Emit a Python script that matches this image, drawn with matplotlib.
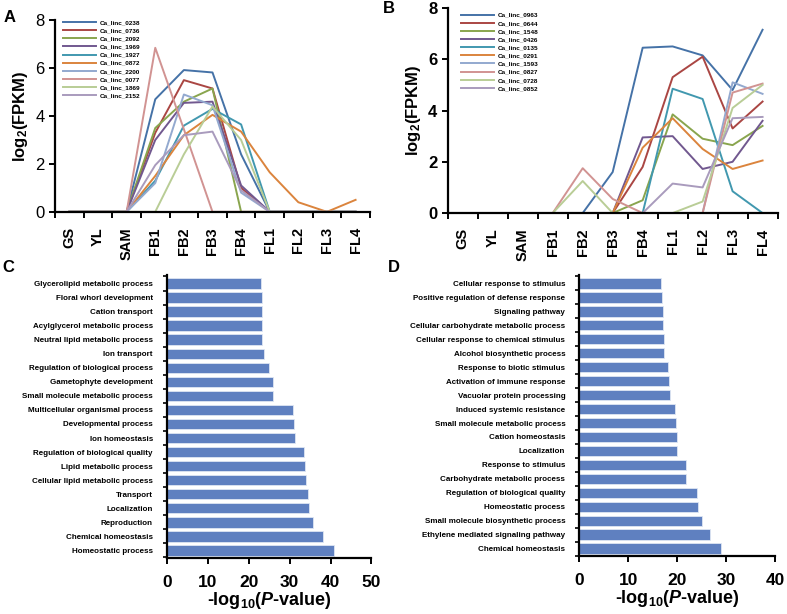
import numpy as np
import matplotlib
matplotlib.use("Agg")
import matplotlib.pyplot as plt

plt.rcParams['font.family'] = ['Liberation Sans', 'DejaVu Sans']
plt.rcParams['mathtext.fontset'] = 'custom'
plt.rcParams['mathtext.rm'] = 'Liberation Sans:bold'
plt.rcParams['mathtext.bf'] = 'Liberation Sans:bold'
plt.rcParams['mathtext.it'] = 'Liberation Sans:italic'
plt.rcParams['mathtext.bfit'] = 'Liberation Sans:italic:bold'

# ---- data ----
stages = ['GS', 'YL', 'SAM', 'FB1', 'FB2', 'FB3', 'FB4', 'FL1', 'FL2', 'FL3', 'FL4']

names_a = ['Ca_linc_0238', 'Ca_linc_0736', 'Ca_linc_2092', 'Ca_linc_1969', 'Ca_linc_1927',
           'Ca_linc_0872', 'Ca_linc_2200', 'Ca_linc_0077', 'Ca_linc_1869', 'Ca_linc_2152']
vals_a = [
    [0, 0, 0, 4.7, 5.92, 5.82, 2.4, 0, 0, 0, 0],
    [0, 0, 0, 3.3, 5.5, 5.15, 1.0, 0, 0, 0, 0],
    [0, 0, 0, 3.5, 4.6, 5.15, 0, 0, 0, 0, 0],
    [0, 0, 0, 3.0, 4.55, 4.6, 1.1, 0, 0, 0, 0],
    [0, 0, 0, 1.3, 3.6, 4.3, 3.65, 0, 0, 0, 0],
    [0, 0, 0, 1.5, 3.2, 4.05, 3.35, 1.65, 0.4, 0, 0.5],
    [0, 0, 0, 1.2, 4.9, 4.45, 0.8, 0, 0, 0, 0],
    [0, 0, 0, 6.85, 3.45, 0, 0, 0, 0, 0, 0],
    [0, 0, 0, 0, 2.4, 4.4, 3.0, 0, 0, 0, 0],
    [0, 0, 0, 1.95, 3.2, 3.35, 0.9, 0, 0, 0, 0],
]

names_b = ['Ca_linc_0963', 'Ca_linc_0644', 'Ca_linc_1548', 'Ca_linc_0426', 'Ca_linc_0135',
           'Ca_linc_0291', 'Ca_linc_1593', 'Ca_linc_0827', 'Ca_linc_0728', 'Ca_linc_0852']
vals_b = [
    [0, 0, 0, 0, 0, 1.6, 6.45, 6.5, 6.15, 4.8, 7.15],
    [0, 0, 0, 0, 0, 0, 1.8, 5.3, 6.1, 3.3, 4.35],
    [0, 0, 0, 0, 0, 0, 0.5, 3.85, 2.9, 2.65, 3.4],
    [0, 0, 0, 0, 0, 0, 2.95, 3.0, 1.72, 2.0, 3.6],
    [0, 0, 0, 0, 0, 0, 0, 4.85, 4.45, 0.85, 0],
    [0, 0, 0, 0, 0, 0, 2.55, 3.7, 2.5, 1.72, 2.05],
    [0, 0, 0, 0, 0, 0, 0, 0, 0, 5.1, 4.65],
    [0, 0, 0, 0, 1.75, 0.55, 0, 0, 0, 4.7, 5.05],
    [0, 0, 0, 0, 1.25, 0, 0, 0, 0.45, 4.1, 5.0],
    [0, 0, 0, 0, 0, 0, 0, 1.15, 1.0, 3.7, 3.75],
]

line_colors = ['#4572A7', '#AA4643', '#89A54E', '#71588F', '#4198AF',
               '#DB843D', '#93A9CF', '#D19392', '#B9CD96', '#A99BBD']

terms_c = ['Glycerolipid metabolic process', 'Floral whorl development', 'Cation transport',
           'Acylglycerol metabolic process', 'Neutral lipid metabolic process', 'Ion transport',
           'Regulation of biological process', 'Gametophyte development',
           'Small molecule metabolic process', 'Multicellular organismal process',
           'Developmental process', 'Ion homeostasis', 'Regulation of biological quality',
           'Lipid metabolic process', 'Cellular lipid metabolic process', 'Transport',
           'Localization', 'Reproduction', 'Chemical homeostasis', 'Homeostatic process']
scores_c = [23.0, 23.2, 23.2, 23.3, 23.3, 23.8, 25.0, 25.9, 26.0, 30.9,
            31.1, 31.3, 33.5, 33.8, 34.1, 34.6, 34.8, 35.7, 38.2, 40.8]

terms_d = ['Cellular response to stimulus', 'Positive regulation of defense response',
           'Signaling pathway', 'Cellular carbohydrate metabolic process',
           'Cellular response to chemical stimulus', 'Alcohol biosynthetic process',
           'Response to biotic stimulus', 'Activation of immune response',
           'Vacuolar protein processing', 'Induced systemic resistance',
           'Small molecule metabolic process', 'Cation homeostasis', 'Localization',
           'Response to stimulus', 'Carbohydrate metabolic process',
           'Regulation of biological quality', 'Homeostatic process',
           'Small molecule biosynthetic process', 'Ethylene mediated signaling pathway',
           'Chemical homeostasis']
scores_d = [16.6, 16.9, 17.0, 17.1, 17.3, 17.4, 18.1, 18.3, 18.5, 19.6,
            19.8, 19.9, 20.0, 21.7, 21.8, 24.0, 24.3, 25.1, 26.7, 29.0]

bar_color = '#5F80C0'

fig = plt.figure(figsize=(7.87, 6.14), dpi=100)


def style_axes(ax):
    for s in ['top', 'right']:
        ax.spines[s].set_visible(False)
    for s in ['left', 'bottom']:
        ax.spines[s].set_linewidth(1.6)
        ax.spines[s].set_color('black')


def line_panel(rect, names, vals, ytick_bold, legend_xy):
    ax = fig.add_axes(rect)
    x = np.arange(len(stages))
    for name, v, c in zip(names, vals, line_colors):
        ax.plot(x, v, color=c, lw=1.4, label=name)
    ax.set_xlim(-0.5, len(stages) - 0.5)
    ax.set_ylim(0, 8)
    ax.set_yticks([0, 2, 4, 6, 8])
    ax.set_yticklabels(['0', '2', '4', '6', '8'], fontsize=12,
                       fontweight='bold' if ytick_bold else 'normal')
    ax.set_xticks(x)
    ax.set_xticklabels(stages, rotation=90, fontsize=10.5, fontweight='bold')
    ax.set_xticks(np.arange(-0.5, len(stages)), minor=True)
    ax.tick_params(axis='x', which='major', length=0, pad=11)
    ax.tick_params(axis='x', which='minor', length=4, width=1.4, direction='out')
    ax.tick_params(axis='y', length=4, width=1.4, direction='out')
    ax.set_ylabel('log$_2$(FPKM)', fontsize=12, fontweight='bold', labelpad=4)
    style_axes(ax)
    ax.legend(loc='upper left', bbox_to_anchor=legend_xy, bbox_transform=fig.transFigure,
              frameon=False, handlelength=5.2, labelspacing=0.42,
              handletextpad=0.6, borderaxespad=0, borderpad=0,
              prop={'size': 4.6, 'weight': 'bold'})
    return ax


def bar_panel(rect, terms, scores, xmax):
    ax = fig.add_axes(rect)
    y = np.arange(len(terms))
    ax.barh(y, scores, height=0.74, color=bar_color, edgecolor='#dfe6f3', linewidth=0.6)
    ax.set_ylim(len(terms) - 0.45, -0.6)
    ax.set_xlim(0, xmax)
    ax.set_xticks(np.arange(0, xmax + 1, 10))
    ax.tick_params(axis='x', labelsize=12.5, length=4, width=1.4, direction='out', pad=8)
    for t in ax.get_xticklabels():
        t.set_fontweight('bold')
    ax.set_yticks(y)
    ax.set_yticklabels(terms, fontsize=5.8, fontweight='bold')
    ax.set_yticks(np.arange(-0.5, len(terms)), minor=True)
    ax.tick_params(axis='y', which='major', length=0, pad=10)
    ax.tick_params(axis='y', which='minor', length=3, width=1.2, direction='out')
    ax.set_xlabel(r'-log$_{\mathbf{10}}$($\mathbfit{P}$-value)', fontsize=13,
                  fontweight='bold', labelpad=0)
    style_axes(ax)
    return ax


line_panel([0.070, 0.655, 0.400, 0.312], names_a, vals_a, False, (0.080, 0.968))
line_panel([0.569, 0.653, 0.419, 0.334], names_b, vals_b, True, (0.586, 0.980))
bar_panel([0.212, 0.091, 0.260, 0.461], terms_c, scores_c, 50)
bar_panel([0.736, 0.094, 0.249, 0.458], terms_d, scores_d, 40)

for lbl, xy in [('A', (0.005, 0.972)), ('B', (0.487, 0.986)),
                ('C', (0.003, 0.564)), ('D', (0.493, 0.565))]:
    fig.text(xy[0], xy[1], lbl, fontsize=12, fontweight='bold', va='center')

fig.savefig('out.png', dpi=100)
